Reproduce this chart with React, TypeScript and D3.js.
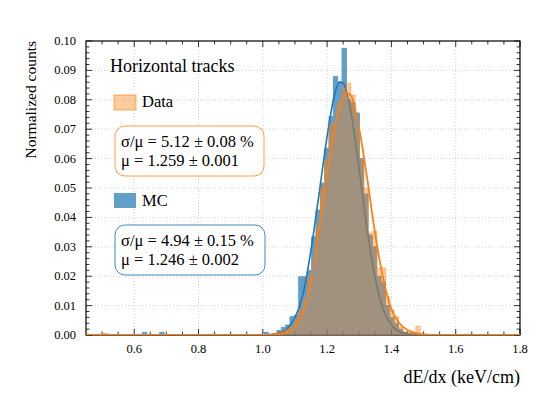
import React, { useEffect, useRef } from "react";
import * as d3 from "d3";

// histogram binning: 100 bins from 0.45 to 1.8
const binStart = 0.45;
const binWidth = 0.0135;

// normalized counts per bin, Data
const dataCounts = [
  0, 0, 0, 0, 0.0006, 0, 0, 0, 0, 0,
  0, 0, 0, 0, 0, 0, 0, 0, 0, 0,
  0, 0, 0, 0, 0, 0, 0, 0, 0, 0.0003,
  0, 0, 0, 0, 0, 0, 0, 0, 0, 0,
  0.0003, 0, 0.0003, 0.0005, 0.0008, 0.0012, 0.002, 0.003, 0.0055, 0.0085,
  0.012, 0.0198, 0.0198, 0.0364, 0.0504, 0.0595, 0.0714, 0.0714, 0.079, 0.084,
  0.0856, 0.0816, 0.07, 0.0595, 0.0499, 0.0347, 0.0352, 0.0228, 0.0228, 0.013,
  0.0085, 0.0062, 0.0028, 0.001, 0.0008, 0.0006, 0.003, 0.0003, 0.0002, 0,
  0, 0, 0, 0, 0, 0, 0, 0.0003, 0, 0,
  0, 0, 0, 0, 0, 0, 0, 0, 0, 0,
];

// normalized counts per bin, MC
const mcCounts = [
  0, 0, 0, 0, 0, 0, 0, 0, 0, 0,
  0, 0, 0, 0.0009, 0, 0, 0, 0.0009, 0, 0,
  0, 0, 0, 0, 0, 0, 0, 0, 0, 0,
  0, 0, 0, 0, 0, 0, 0, 0, 0, 0,
  0, 0.0009, 0, 0.0005, 0.0015, 0.0026, 0.0034, 0.0062, 0.0068, 0.0198,
  0.0198, 0.022, 0.0334, 0.0425, 0.0516, 0.0635, 0.0743, 0.0879, 0.0862, 0.0975,
  0.08, 0.079, 0.0755, 0.06, 0.048, 0.034, 0.03, 0.02, 0.018, 0.01,
  0.006, 0.004, 0.002, 0.001, 0.0006, 0.0004, 0.0003, 0.0002, 0, 0,
  0, 0, 0, 0, 0, 0, 0, 0, 0, 0,
  0, 0, 0, 0, 0, 0, 0, 0, 0, 0,
];

// fitted curves
const fitX = [
  0.45, 1.0, 1.05, 1.075, 1.1, 1.125, 1.15, 1.175, 1.2, 1.225, 1.2375, 1.25, 1.2625,
  1.275, 1.3, 1.325, 1.35, 1.375, 1.4, 1.425, 1.45, 1.475, 1.5, 1.55, 1.8,
];
const dataFit = [
  0, 0, 0.0003, 0.001, 0.0028, 0.008, 0.018, 0.0365, 0.055, 0.0715, 0.0778, 0.0808, 0.0823,
  0.0812, 0.07, 0.053, 0.034, 0.019, 0.0088, 0.004, 0.0017, 0.0007, 0.0002, 0, 0,
];
const mcFit = [
  0, 0, 0.0006, 0.0021, 0.0058, 0.0138, 0.029, 0.048, 0.0676, 0.0826, 0.0859, 0.0856, 0.082,
  0.0753, 0.0562, 0.0355, 0.0191, 0.0087, 0.0034, 0.0011, 0.0003, 0.0001, 0, 0, 0,
];

const xTicks = [0.6, 0.8, 1.0, 1.2, 1.4, 1.6, 1.8];
const yTicks = [0, 0.01, 0.02, 0.03, 0.04, 0.05, 0.06, 0.07, 0.08, 0.09, 0.1];

const dataStats = ["σ/μ = 5.12 ± 0.08 %", "μ = 1.259 ± 0.001"];
const mcStats = ["σ/μ = 4.94 ± 0.15 %", "μ = 1.246 ± 0.002"];

const BLUE = "#1f77b4";
const ORANGE = "#ff7f0e";
const FONT = "Liberation Serif";

const App = () => {
  const container = useRef(null);

  useEffect(() => {
    const width = 548;
    const height = 394;
    const left = 86, right = 520, top = 41, bottom = 335;

    const x = d3.scaleLinear().domain([0.45, 1.8]).range([left, right]);
    const y = d3.scaleLinear().domain([0, 0.1]).range([bottom, top]);

    const svg = d3
      .select(container.current)
      .append("svg")
      .attr("width", width)
      .attr("height", height)
      .attr("viewBox", [0, 0, width, height])
      .attr("font-family", FONT)
      .style("position", "absolute")
      .style("left", 0)
      .style("top", 0);

    svg.append("rect").attr("width", width).attr("height", height).attr("fill", "white");

    svg
      .append("clipPath")
      .attr("id", "plot-clip")
      .append("rect")
      .attr("x", left)
      .attr("y", top)
      .attr("width", right - left)
      .attr("height", bottom - top);

    // grid
    const grid = svg.append("g").attr("stroke", "#c8c8c8").attr("stroke-width", 0.8).attr("stroke-dasharray", "1,2");
    xTicks.filter((t) => t < 1.79).forEach((t) => {
      grid.append("line").attr("x1", x(t)).attr("x2", x(t)).attr("y1", top).attr("y2", bottom);
    });
    yTicks.filter((t) => t > 0 && t < 0.1).forEach((t) => {
      grid.append("line").attr("x1", left).attr("x2", right).attr("y1", y(t)).attr("y2", y(t));
    });

    // ticks, pointing inward on all four sides
    const ticks = svg.append("g").attr("stroke", "black").attr("stroke-width", 0.8);
    const xMinor = d3.range(0.5, 1.8, 0.05).filter((t) => !xTicks.some((m) => Math.abs(m - t) < 1e-6));
    const yMinor = d3.range(0, 0.1, 0.002).filter((t) => !yTicks.some((m) => Math.abs(m - t) < 1e-6));
    const xt = (t, len) => {
      ticks.append("line").attr("x1", x(t)).attr("x2", x(t)).attr("y1", bottom).attr("y2", bottom - len);
      ticks.append("line").attr("x1", x(t)).attr("x2", x(t)).attr("y1", top).attr("y2", top + len);
    };
    const yt = (t, len) => {
      ticks.append("line").attr("x1", left).attr("x2", left + len).attr("y1", y(t)).attr("y2", y(t));
      ticks.append("line").attr("x1", right).attr("x2", right - len).attr("y1", y(t)).attr("y2", y(t));
    };
    xTicks.forEach((t) => xt(t, 6));
    xMinor.forEach((t) => xt(t, 3.5));
    yTicks.forEach((t) => yt(t, 6));
    yMinor.forEach((t) => yt(t, 3.5));

    // frame
    svg
      .append("rect")
      .attr("x", left)
      .attr("y", top)
      .attr("width", right - left)
      .attr("height", bottom - top)
      .attr("fill", "none")
      .attr("stroke", "black")
      .attr("stroke-width", 1.2);

    // histograms and fits
    const plot = svg.append("g").attr("clip-path", "url(#plot-clip)");
    const stepPoints = (counts) => {
      const pts = counts.map((v, i) => [binStart + i * binWidth, v]);
      pts.push([binStart + counts.length * binWidth, counts[counts.length - 1]]);
      return pts;
    };
    const area = d3
      .area()
      .x((d) => x(d[0]))
      .y0(y(0))
      .y1((d) => y(d[1]))
      .curve(d3.curveStepAfter);
    const fitLine = d3
      .line()
      .x((d) => x(d[0]))
      .y((d) => y(d[1]))
      .curve(d3.curveMonotoneX);

    plot
      .append("path")
      .attr("d", area(stepPoints(mcCounts)))
      .attr("fill", BLUE)
      .attr("stroke", BLUE)
      .attr("stroke-width", 1)
      .attr("opacity", 0.7);
    plot
      .append("path")
      .attr("d", fitLine(fitX.map((v, i) => [v, mcFit[i]])))
      .attr("fill", "none")
      .attr("stroke", BLUE)
      .attr("stroke-width", 1.6);
    plot
      .append("path")
      .attr("d", area(stepPoints(dataCounts)))
      .attr("fill", ORANGE)
      .attr("fill-opacity", 0.4)
      .attr("stroke", ORANGE)
      .attr("stroke-opacity", 0.45)
      .attr("stroke-width", 1);
    plot
      .append("path")
      .attr("d", fitLine(fitX.map((v, i) => [v, dataFit[i]])))
      .attr("fill", "none")
      .attr("stroke", ORANGE)
      .attr("stroke-width", 1.8);

    // tick labels
    svg
      .append("g")
      .attr("font-size", 12.5)
      .attr("text-anchor", "middle")
      .selectAll("text")
      .data(xTicks)
      .join("text")
      .attr("font-family", FONT)
      .attr("x", (d) => x(d))
      .attr("y", bottom + 18)
      .text((d) => d3.format(".1f")(d));
    svg
      .append("g")
      .attr("font-size", 12.5)
      .attr("text-anchor", "end")
      .selectAll("text")
      .data(yTicks)
      .join("text")
      .attr("font-family", FONT)
      .attr("x", left - 10)
      .attr("y", (d) => y(d) + 4)
      .text((d) => d3.format(".2f")(d));

    // axis titles
    svg
      .append("text")
      .attr("font-family", FONT)
      .attr("x", right)
      .attr("y", 383)
      .attr("text-anchor", "end")
      .attr("font-size", 18)
      .text("dE/dx (keV/cm)");
    svg
      .append("text")
      .attr("font-family", FONT)
      .attr("transform", `translate(36,${top}) rotate(-90)`)
      .attr("text-anchor", "end")
      .attr("font-size", 15.5)
      .text("Normalized counts");

    // legend
    const lg = svg.append("g").attr("font-size", 16.5).attr("font-family", FONT);
    lg.append("text").attr("x", 110).attr("y", 72).attr("font-size", 18).text("Horizontal tracks");

    lg.append("rect")
      .attr("x", 114).attr("y", 95).attr("width", 22).attr("height", 15)
      .attr("fill", ORANGE).attr("fill-opacity", 0.4)
      .attr("stroke", ORANGE).attr("stroke-opacity", 0.6);
    lg.append("text").attr("x", 142).attr("y", 107).text("Data");

    lg.append("rect")
      .attr("x", 115).attr("y", 126).attr("width", 149).attr("height", 50).attr("rx", 10)
      .attr("fill", "white").attr("stroke", ORANGE).attr("stroke-opacity", 0.75);
    dataStats.forEach((s, i) => {
      lg.append("text").attr("x", 121).attr("y", 147 + i * 19).text(s);
    });

    lg.append("rect")
      .attr("x", 114).attr("y", 193).attr("width", 22).attr("height", 15)
      .attr("fill", BLUE).attr("opacity", 0.7);
    lg.append("text").attr("x", 142).attr("y", 206).text("MC");

    lg.append("rect")
      .attr("x", 115).attr("y", 225).attr("width", 150).attr("height", 50).attr("rx", 10)
      .attr("fill", "white").attr("stroke", BLUE).attr("stroke-opacity", 0.85);
    mcStats.forEach((s, i) => {
      lg.append("text").attr("x", 121).attr("y", 246 + i * 19).text(s);
    });

    return () => {
      svg.remove();
    };
  }, []);

  return <div ref={container}></div>;
};

export default App;
